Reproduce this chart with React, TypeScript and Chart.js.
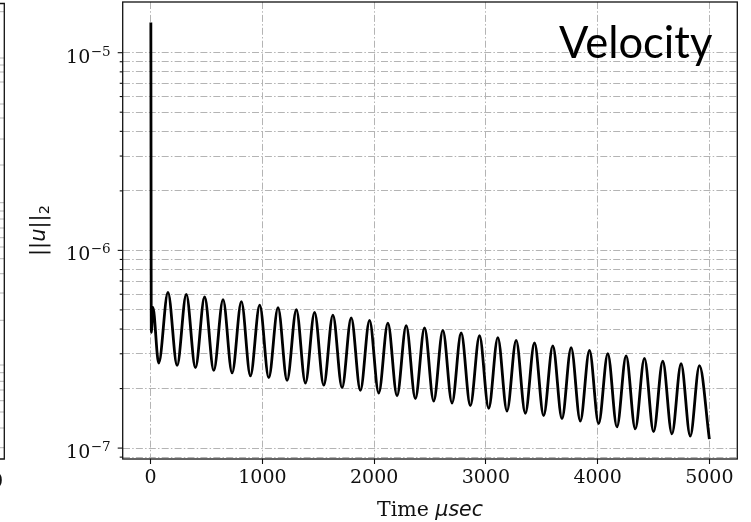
import React, { useEffect, useRef } from "react";
import { Chart, registerables } from "chart.js";

Chart.register(...registerables);

// ---- data ----
const transientTimes = [0, 2, 6, 20];
const transientValues = [0, 1.42e-5, 3.85e-7, 5.15e-7];

const troughTimes = [72, 237, 401, 565, 729, 893, 1057, 1221, 1385, 1549, 1713, 1877, 2041, 2205, 2369, 2533, 2697, 2861, 3025, 3189, 3353, 3517, 3681, 3845, 4009, 4173, 4337, 4501, 4665, 4829];
const troughValues = [2.69e-7, 2.62e-7, 2.55e-7, 2.47e-7, 2.4e-7, 2.32e-7, 2.27e-7, 2.2e-7, 2.13e-7, 2.08e-7, 2.02e-7, 1.96e-7, 1.9e-7, 1.84e-7, 1.78e-7, 1.73e-7, 1.69e-7, 1.64e-7, 1.59e-7, 1.54e-7, 1.5e-7, 1.46e-7, 1.41e-7, 1.37e-7, 1.33e-7, 1.28e-7, 1.25e-7, 1.21e-7, 1.18e-7, 1.15e-7];

const peakTimes = [155, 319, 483, 648, 812, 976, 1140, 1304, 1467, 1631, 1795, 1959, 2123, 2287, 2451, 2615, 2779, 2943, 3107, 3271, 3435, 3599, 3763, 3927, 4091, 4255, 4419, 4583, 4747, 4911];
const peakValues = [6.13e-7, 5.99e-7, 5.81e-7, 5.63e-7, 5.5e-7, 5.29e-7, 5.13e-7, 5.01e-7, 4.86e-7, 4.71e-7, 4.56e-7, 4.43e-7, 4.29e-7, 4.16e-7, 4.06e-7, 3.94e-7, 3.82e-7, 3.7e-7, 3.62e-7, 3.51e-7, 3.4e-7, 3.29e-7, 3.22e-7, 3.12e-7, 3e-7, 2.93e-7, 2.84e-7, 2.75e-7, 2.67e-7, 2.61e-7];

const endTimes = [5000];
const endValues = [1.11e-7];

const xTicks = [0, 1000, 2000, 3000, 4000, 5000];
const xTickLabels = ["0", "1000", "2000", "3000", "4000", "5000"];
const yMajorTicks = [1e-7, 1e-6, 1e-5];
const yMajorExponents = ["\u22127", "\u22126", "\u22125"];
const yMinorMultipliers = [2, 3, 4, 5, 6, 7, 8, 9];

const xMin = -250;
const xMax = 5250;
const yMin = Math.pow(10, -7.0552);
const yMax = Math.pow(10, -4.7436);

const titleText = "Velocity";
const xLabelPlain = "Time ";
const xLabelItalic = "\u03bcsec";

// build the point table
const points: { x: number; y: number }[] = [];
transientTimes.forEach((t, i) => points.push({ x: t, y: transientValues[i] }));
troughTimes.forEach((t, i) => points.push({ x: t, y: troughValues[i] }));
peakTimes.forEach((t, i) => points.push({ x: t, y: peakValues[i] }));
endTimes.forEach((t, i) => points.push({ x: t, y: endValues[i] }));
points.sort((a, b) => a.x - b.x);

// tick list for the log axis (majors + minors within range)
function buildYTicks() {
  const out: { value: number; major: boolean }[] = [];
  for (const base of [1e-8, ...yMajorTicks]) {
    if (base >= yMin && base <= yMax) out.push({ value: base, major: true });
    for (const m of yMinorMultipliers) {
      const v = m * base;
      if (v >= yMin && v <= yMax) out.push({ value: v, major: false });
    }
  }
  return out.sort((a, b) => a.value - b.value);
}

const GRID_DASH = [7, 2.2, 1.5, 2.2];
const GRID_COLOR = "#b4b4b4";
const SERIF = '"DejaVu Serif", serif';
const SANS = '"DejaVu Sans", sans-serif';

const decorPlugin = {
  id: "decor",
  afterDraw(chart: any) {
    const { ctx, chartArea: a, scales } = chart;
    const y = scales.y;
    ctx.save();

    // neighbouring (cropped) panel at far left
    ctx.strokeStyle = GRID_COLOR;
    ctx.lineWidth = 1;
    const stubs = [11.7, 58, 65, 72, 82, 104, 118, 139, 165, 202.7, 211, 219, 228, 237.7, 247, 258.7, 273.7, 293, 320.3, 365, 372.7, 381.3, 390, 400.7, 412, 428, 447.7];
    stubs.forEach((sy) => {
      ctx.beginPath();
      ctx.moveTo(0, sy);
      ctx.lineTo(4, sy);
      ctx.stroke();
    });
    ctx.strokeStyle = "#111";
    ctx.lineWidth = 1.3;
    ctx.beginPath();
    ctx.moveTo(0, a.top + 1.5);
    ctx.lineTo(4.3, a.top + 1.5);
    ctx.lineTo(4.3, a.bottom);
    ctx.lineTo(0, a.bottom);
    ctx.stroke();
    ctx.fillStyle = "#111";
    ctx.font = `19px ${SERIF}`;
    ctx.textAlign = "center";
    ctx.textBaseline = "alphabetic";
    ctx.fillText("0", -3, 487);

    // frame
    ctx.strokeStyle = "#111";
    ctx.lineWidth = 1.3;
    ctx.strokeRect(a.left, a.top, a.right - a.left, a.bottom - a.top);

    // y ticks and labels
    ctx.lineWidth = 1.1;
    y.ticks.forEach((t: any) => {
      const py = y.getPixelForValue(t.value);
      ctx.beginPath();
      ctx.moveTo(a.left, py);
      ctx.lineTo(a.left - (t.major ? 5 : 3), py);
      ctx.stroke();
      if (t.major) {
        const idx = yMajorTicks.findIndex((v) => Math.abs(v - t.value) / v < 1e-6);
        if (idx >= 0) {
          const right = a.left - 12;
          ctx.textAlign = "right";
          ctx.font = `13.5px ${SERIF}`;
          const sup = yMajorExponents[idx];
          const supW = ctx.measureText(sup).width;
          ctx.fillText(sup, right, py + 3);
          ctx.font = `19px ${SERIF}`;
          ctx.fillText("10", right - supW - 0.5, py + 10);
        }
      }
    });

    // x label
    ctx.textAlign = "left";
    ctx.font = `20.5px ${SERIF}`;
    const w1 = ctx.measureText(xLabelPlain).width;
    ctx.font = `oblique 20.5px ${SANS}`;
    const w2 = ctx.measureText(xLabelItalic).width;
    const cx = (a.left + a.right) / 2;
    const x0 = cx - (w1 + w2) / 2;
    ctx.font = `20.5px ${SERIF}`;
    ctx.fillText(xLabelPlain, x0, 516);
    ctx.font = `oblique 20.5px ${SANS}`;
    ctx.fillText(xLabelItalic, x0 + w1, 516);

    // y label ||u||_2 (rotated)
    ctx.save();
    ctx.translate(45, (a.top + a.bottom) / 2);
    ctx.rotate(-Math.PI / 2);
    const fs = 21;
    const parts = [
      { t: "||", f: `${fs}px ${SANS}`, dy: 0 },
      { t: "u", f: `oblique ${fs}px ${SANS}`, dy: 0 },
      { t: "||", f: `${fs}px ${SANS}`, dy: 0 },
      { t: "2", f: `${fs * 0.7}px ${SANS}`, dy: 4 },
    ];
    let total = 0;
    parts.forEach((p) => {
      ctx.font = p.f;
      total += ctx.measureText(p.t).width;
    });
    let px = -total / 2;
    ctx.textAlign = "left";
    parts.forEach((p) => {
      ctx.font = p.f;
      ctx.fillText(p.t, px, p.dy);
      px += ctx.measureText(p.t).width;
    });
    ctx.restore();

    // panel title
    ctx.fillStyle = "#000";
    ctx.font = `43.5px Lato, sans-serif`;
    ctx.textAlign = "left";
    ctx.fillText(titleText, 559, 58);

    ctx.restore();
  },
};

export default function App() {
  const ref = useRef<HTMLCanvasElement>(null);
  useEffect(() => {
    const chart = new Chart(ref.current as HTMLCanvasElement, {
      type: "line",
      data: {
        datasets: [
          {
            data: points,
            borderColor: "#000",
            borderWidth: 2.8,
            pointRadius: 0,
            cubicInterpolationMode: "monotone",
            fill: false,
          },
        ],
      },
      options: {
        animation: false,
        responsive: false,
        devicePixelRatio: 1,
        layout: { padding: { top: 2, right: 13.7, left: 0, bottom: 0 } },
        plugins: { legend: { display: false }, tooltip: { enabled: false } },
        scales: {
          x: {
            type: "linear",
            min: xMin,
            max: xMax,
            afterBuildTicks: (s: any) => {
              s.ticks = xTicks.map((v) => ({ value: v }));
            },
            afterFit: (s: any) => {
              s.height = 63;
            },
            ticks: {
              autoSkip: false,
              maxRotation: 0,
              padding: 3,
              color: "#111",
              font: { family: "DejaVu Serif", size: 19 },
              callback: (_v: any, i: number) => xTickLabels[i],
            },
            grid: {
              color: GRID_COLOR,
              lineWidth: 1,
              drawTicks: true,
              tickLength: 5,
              tickColor: "#111",
              tickWidth: 1.1,
              tickBorderDash: [],
            },
            border: { display: false, dash: GRID_DASH },
          },
          y: {
            type: "logarithmic",
            min: yMin,
            max: yMax,
            afterBuildTicks: (s: any) => {
              s.ticks = buildYTicks();
            },
            afterFit: (s: any) => {
              s.width = 122.7;
            },
            ticks: { display: false, autoSkip: false },
            grid: {
              color: GRID_COLOR,
              lineWidth: 1,
              drawTicks: false,
            },
            border: { display: false, dash: GRID_DASH },
          },
        },
      },
      plugins: [decorPlugin],
    } as any);
    return () => chart.destroy();
  }, []);
  return (
    <div style={{ position: "fixed", left: 0, top: 0, width: 751, height: 522, background: "#fff" }}>
      <canvas ref={ref} width={751} height={522} style={{ display: "block", width: 751, height: 522 }} />
    </div>
  );
}
